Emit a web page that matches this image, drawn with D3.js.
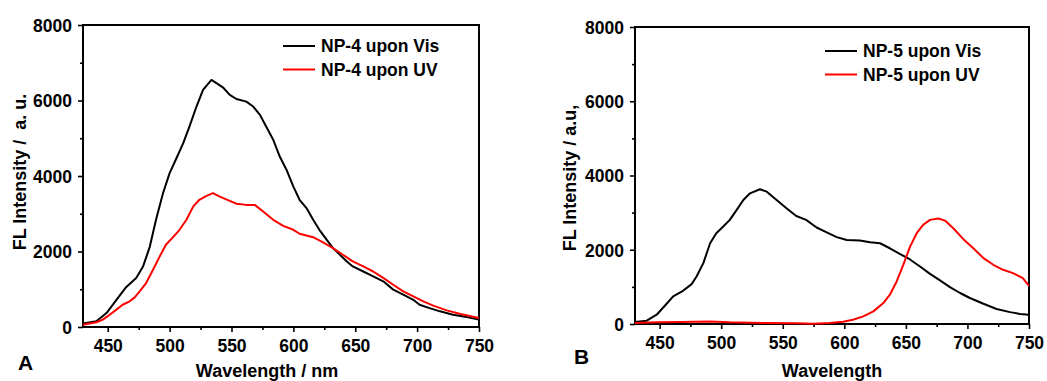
<!DOCTYPE html>
<html lang="en">
<head>
<meta charset="UTF-8">
<title>FL spectra</title>
<script src="https://cdn.jsdelivr.net/npm/d3@7"></script>
<style>
  body { margin: 0; background: #fff; }
  svg text { font-family: "Liberation Sans", Arial, sans-serif; font-weight: bold; fill: #000; }
</style>
</head>
<body>
<svg id="chart" width="1047" height="381"></svg>
<script>
// wavelength (nm) / intensity pairs
var np4VisWl = [430,440.8,449,457,465,473,478.5,484,489,494.7,500,505.5,511,516,521.7,527,533.8,537.8,543,548.6,554,562,567.5,573,578,583.7,589,594.5,600,605,610.6,616,621,627,632,637.6,643,648,656.5,664.5,672.6,680.7,688.8,696.9,702,710,718.5,729,740,750]
var np4VisI  = [90,150,370,720,1060,1300,1600,2130,2840,3550,4075,4470,4870,5310,5840,6280,6545,6460,6350,6150,6040,5970,5840,5620,5310,4960,4516,4160,3720,3370,3150,2840,2575,2310,2090,1915,1740,1605,1470,1340,1210,990,855,720,590,500,415,325,265,195]

var np4UvWl = [430,440.8,446,451.6,457,462,467.7,471.8,475.8,481,486.6,492,497,502.8,508,513.6,519,524,529.8,535,540.5,548.6,554,562,568.8,575.6,583.7,591.8,600,605,616,624,632,640,648,656.5,664.5,672.6,680.7,688.8,696.9,705,713,724,735,750]
var np4UvI  = [60,125,195,325,460,590,680,785,945,1165,1515,1870,2180,2380,2575,2840,3190,3370,3475,3545,3455,3340,3265,3235,3235,3060,2840,2680,2575,2470,2380,2240,2090,1915,1740,1605,1470,1300,1120,945,810,680,565,440,345,240]

var np5VisWl = [430,439.5,447.6,455.7,461,469,476,480,485.5,491,496,501.7,507,512.6,518,523.4,531.5,537,545,553,561,569,577.5,585.7,593.8,602,612.7,620.9,629,637,645,653,661.5,669.6,677.7,685.8,694,702,713,723.7,734.6,742.7,750]
var np5VisI  = [55,90,250,545,745,895,1075,1280,1640,2175,2445,2625,2805,3075,3340,3520,3630,3565,3340,3120,2910,2805,2600,2470,2340,2265,2250,2205,2175,2040,1890,1745,1550,1350,1175,995,835,700,545,405,320,270,250]

var np5UvWl = [430,447.6,466.5,491,507,534,561,575,588,599,607,615.4,623.6,631.7,637,642.5,647.9,653.4,658.8,664,669.6,676.4,681.8,688.5,696.7,704.8,713,721,729,737,745,750]
var np5UvI  = [27,45,55,70,45,27,18,9,27,63,115,205,340,565,790,1145,1595,2085,2445,2670,2805,2840,2785,2580,2285,2040,1775,1595,1460,1370,1235,1030]

var xTicks = [450,500,550,600,650,700,750]
var yTicks = [0,2000,4000,6000,8000]

var panels = [
  {box: [83, 25, 479, 327], letter: 'A', letterPos: [18, 370],
   xTitle: 'Wavelength / nm', xTitleX: 267, xTitleY: 377,
   yTitle: 'FL Intensity /  a. u.', yTitleX: 26, yTitleY: 172,
   legend: ['NP-4 upon Vis', 'NP-4 upon UV'], legendPos: [283, 46],
   series: [[np4VisWl, np4VisI, '#000'], [np4UvWl, np4UvI, '#ff0000']]},
  {box: [635, 27, 1029, 324], letter: 'B', letterPos: [574, 364],
   xTitle: 'Wavelength', xTitleX: 832, xTitleY: 377,
   yTitle: 'FL Intensity / a.u,', yTitleX: 576, yTitleY: 178,
   legend: ['NP-5 upon Vis', 'NP-5 upon UV'], legendPos: [825, 51],
   series: [[np5VisWl, np5VisI, '#000'], [np5UvWl, np5UvI, '#ff0000']]}
]

var svg = d3.select('#chart')

panels.forEach(function (p) {
  var x = d3.scaleLinear().domain([430, 750]).range([p.box[0], p.box[2]])
  var y = d3.scaleLinear().domain([0, 8000]).range([p.box[3], p.box[1]])
  var g = svg.append('g')

  // minor ticks first
  g.append('g')
    .attr('transform', 'translate(0,' + p.box[3] + ')')
    .call(d3.axisBottom(x).tickValues(d3.range(475, 750, 50)).tickSize(3).tickFormat(''))
  g.append('g')
    .attr('transform', 'translate(' + p.box[0] + ',0)')
    .call(d3.axisLeft(y).tickValues(d3.range(1000, 8000, 2000)).tickSize(3).tickFormat(''))

  var xa = g.append('g')
    .attr('transform', 'translate(0,' + p.box[3] + ')')
    .call(d3.axisBottom(x).tickValues(xTicks).tickSize(5).tickPadding(8))
  var ya = g.append('g')
    .attr('transform', 'translate(' + p.box[0] + ',0)')
    .call(d3.axisLeft(y).tickValues(yTicks).tickSize(5).tickPadding(6).tickFormat(d3.format('d')))

  g.selectAll('.domain').remove()
  g.selectAll('.tick line').attr('stroke', '#000').attr('stroke-width', 1.6)
  xa.selectAll('text').style('font-size', '17.5px').attr('fill', '#000')
  ya.selectAll('text').style('font-size', '17.5px').attr('fill', '#000').attr('dy', '0.36em')

  // frame
  g.append('rect')
    .attr('x', p.box[0]).attr('y', p.box[1])
    .attr('width', p.box[2] - p.box[0]).attr('height', p.box[3] - p.box[1])
    .attr('fill', 'none').attr('stroke', '#000').attr('stroke-width', 2)

  var line = d3.line()
    .x(function (d) { return x(d[0]) })
    .y(function (d) { return y(d[1]) })

  p.series.forEach(function (s) {
    var pts = s[0].map(function (w, i) { return [w, s[1][i]] })
    g.append('path').datum(pts)
      .attr('d', line)
      .attr('fill', 'none')
      .attr('stroke', s[2])
      .attr('stroke-width', 2)
      .attr('stroke-linejoin', 'round')
  })

  // legend
  p.legend.forEach(function (t, i) {
    var ly = p.legendPos[1] + i * 23.5
    g.append('line')
      .attr('x1', p.legendPos[0]).attr('x2', p.legendPos[0] + 32)
      .attr('y1', ly).attr('y2', ly)
      .attr('stroke', p.series[i][2]).attr('stroke-width', 2)
    g.append('text')
      .attr('x', p.legendPos[0] + 38).attr('y', ly + 6)
      .style('font-size', '17.5px')
      .text(t)
  })

  g.append('text')
    .attr('x', p.xTitleX).attr('y', p.xTitleY)
    .attr('text-anchor', 'middle')
    .style('font-size', '18px')
    .text(p.xTitle)

  g.append('text')
    .attr('transform', 'translate(' + p.yTitleX + ',' + p.yTitleY + ') rotate(-90)')
    .attr('text-anchor', 'middle')
    .style('font-size', '18px')
    .style('white-space', 'pre')
    .text(p.yTitle)

  g.append('text')
    .attr('x', p.letterPos[0]).attr('y', p.letterPos[1])
    .style('font-size', '21px')
    .text(p.letter)
})
</script>
</body>
</html>
